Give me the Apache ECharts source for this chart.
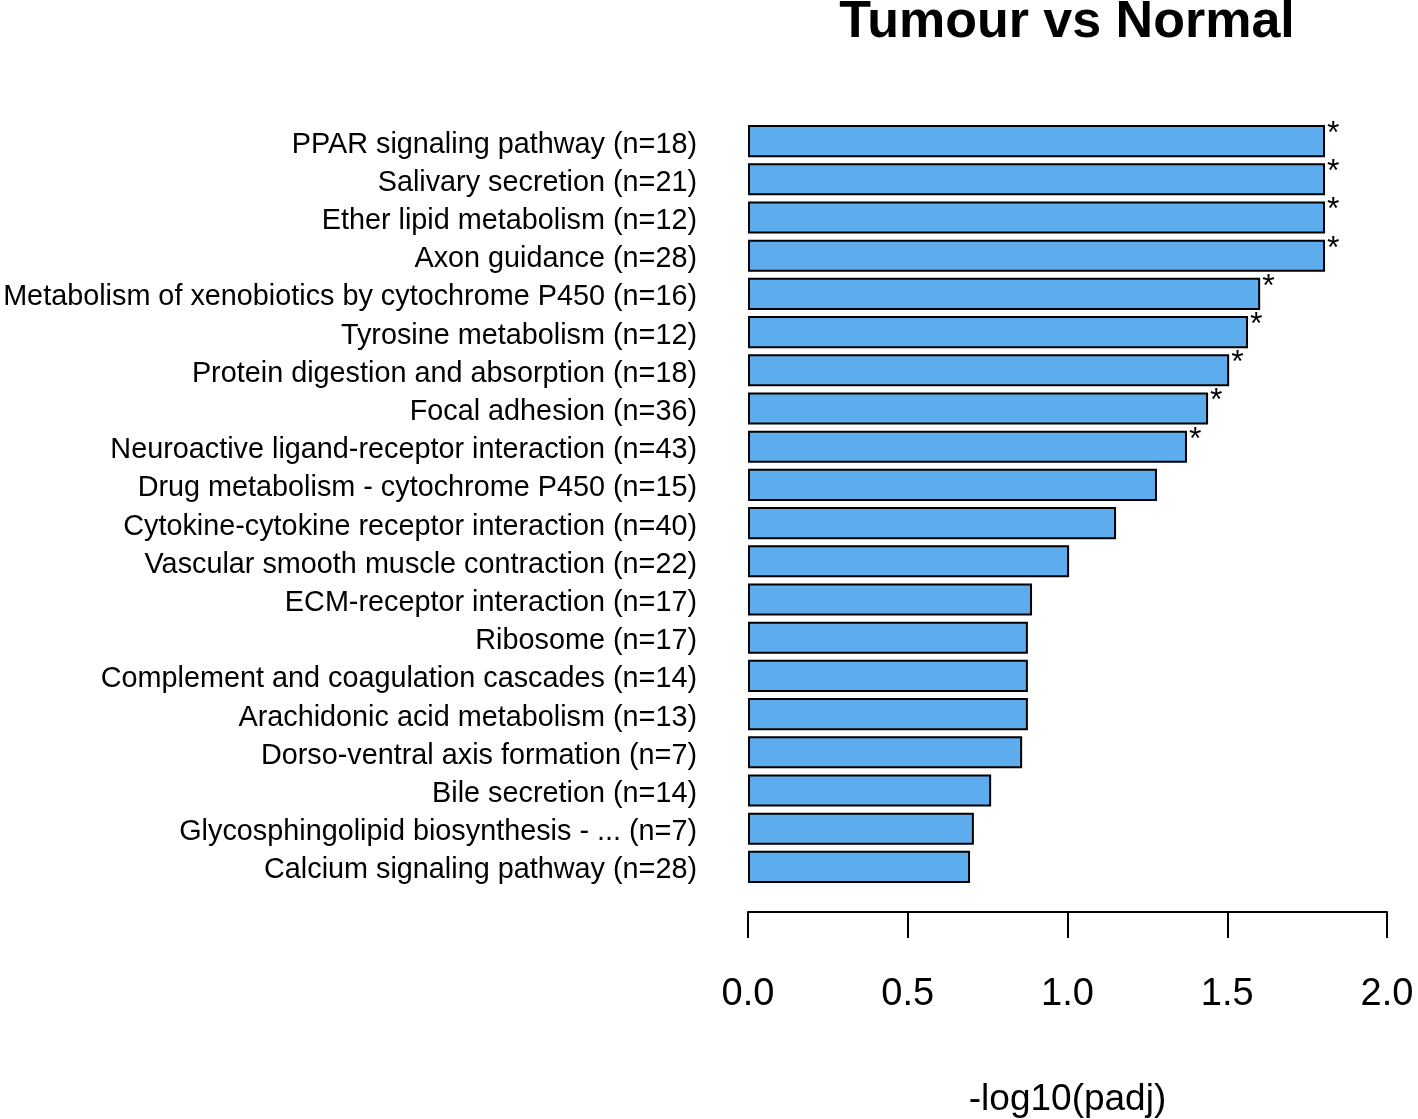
<!DOCTYPE html>
<html>
<head>
<meta charset="utf-8">
<script src="https://cdn.jsdelivr.net/npm/echarts@6/dist/echarts.min.js"></script>
<style>html,body{margin:0;padding:0;background:#fff;}#c{width:1418px;height:1119px;}</style>
</head>
<body>
<div id="c"></div>
<script>
const categories = [
  "PPAR signaling pathway (n=18)",
  "Salivary secretion (n=21)",
  "Ether lipid metabolism (n=12)",
  "Axon guidance (n=28)",
  "Metabolism of xenobiotics by cytochrome P450 (n=16)",
  "Tyrosine metabolism (n=12)",
  "Protein digestion and absorption (n=18)",
  "Focal adhesion (n=36)",
  "Neuroactive ligand-receptor interaction (n=43)",
  "Drug metabolism - cytochrome P450 (n=15)",
  "Cytokine-cytokine receptor interaction (n=40)",
  "Vascular smooth muscle contraction (n=22)",
  "ECM-receptor interaction (n=17)",
  "Ribosome (n=17)",
  "Complement and coagulation cascades (n=14)",
  "Arachidonic acid metabolism (n=13)",
  "Dorso-ventral axis formation (n=7)",
  "Bile secretion (n=14)",
  "Glycosphingolipid biosynthesis - ... (n=7)",
  "Calcium signaling pathway (n=28)"
];
const values = [1.806, 1.806, 1.806, 1.806, 1.603, 1.565, 1.506, 1.440, 1.374, 1.280,
                 1.152, 1.005, 0.889, 0.876, 0.876, 0.876, 0.858, 0.761, 0.707, 0.695];
const significant = [true, true, true, true, true, true, true, true, true, false,
                     false, false, false, false, false, false, false, false, false, false];
const xTicks = [0, 0.5, 1.0, 1.5, 2.0];

const FONT = "Liberation Sans";
const chart = echarts.init(document.getElementById('c'), null, {renderer: 'canvas'});
chart.setOption({
  animation: false,
  backgroundColor: '#ffffff',
  title: {
    text: 'Tumour vs Normal',
    left: 1062, top: -8,
    textAlign: 'center',
    textStyle: {fontFamily: FONT, fontWeight: 'bold', fontSize: 52, color: '#000'}
  },
  grid: {left: 748, right: 31, top: 122, bottom: 233, containLabel: false, outerBoundsMode: 'none'},
  xAxis: {
    type: 'value',
    min: xTicks[0], max: xTicks[xTicks.length - 1], interval: 0.5,
    offset: 26,
    splitLine: {show: false},
    axisLine: {show: true, lineStyle: {color: '#000', width: 2}},
    axisTick: {show: true, length: 26, lineStyle: {color: '#000', width: 2}},
    axisLabel: {
      fontFamily: FONT, fontSize: 38, color: '#000', margin: 64,
      formatter: v => v.toFixed(1)
    },
    name: '-log10(padj)',
    nameLocation: 'middle',
    nameGap: 169,
    nameTextStyle: {fontFamily: FONT, fontSize: 37, color: '#000'}
  },
  yAxis: {
    type: 'category',
    data: categories,
    inverse: true,
    axisLine: {show: false},
    axisTick: {show: false},
    axisLabel: {
      fontFamily: FONT, fontSize: 28.8, color: '#000', margin: 51,
      formatter: v => '{a|' + v + '}',
      rich: {a: {fontFamily: FONT, fontSize: 28.8, color: '#000', padding: [7, 0, 0, 0]}}
    }
  },
  series: [{
    type: 'bar',
    data: values.map((v, i) => ({
      value: v,
      label: {show: significant[i]}
    })),
    barCategoryGap: '16%',
    itemStyle: {color: '#5CACEE', borderColor: '#000', borderWidth: 2},
    label: {
      show: false,
      position: 'right',
      distance: 2,
      offset: [0, -7],
      formatter: '*',
      fontFamily: FONT, fontSize: 32, color: '#000'
    }
  }]
});
</script>
</body>
</html>
